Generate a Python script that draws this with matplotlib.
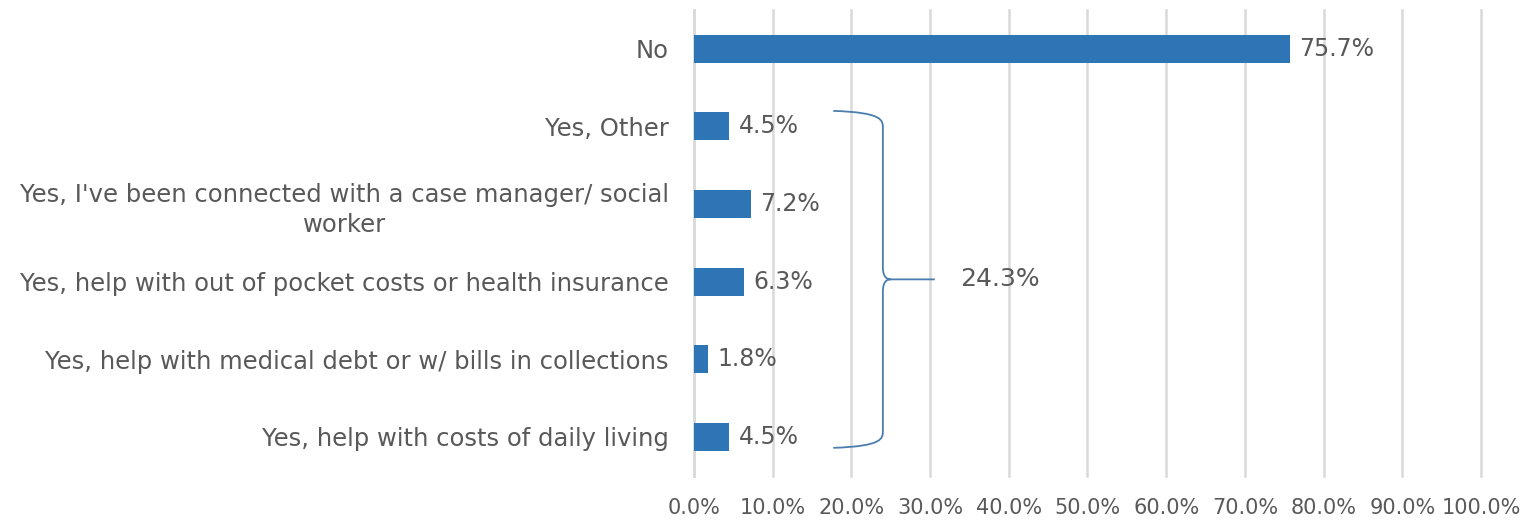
import matplotlib
matplotlib.use("Agg")
import matplotlib.pyplot as plt
from matplotlib.path import Path
from matplotlib.patches import PathPatch
from matplotlib.ticker import PercentFormatter

# ── Data ─────────────────────────────────────────────────────────────────────
categories = [
    "No",
    "Yes, Other",
    "Yes, I've been connected with a case manager/ social\nworker",
    "Yes, help with out of pocket costs or health insurance",
    "Yes, help with medical debt or w/ bills in collections",
    "Yes, help with costs of daily living",
]
values = [75.7, 4.5, 7.2, 6.3, 1.8, 4.5]
yes_total = sum(values[1:])          # 24.3

# ── Style ────────────────────────────────────────────────────────────────────
BAR_COLOR  = "#2e75b6"
TEXT_COLOR = "#595959"
GRID_COLOR = "#d9d9d9"
plt.rcParams["font.family"] = ["DejaVu Sans"]

fig = plt.figure(figsize=(15.32, 5.24), dpi=100)
ax = fig.add_axes([0.453, 0.092, 0.5137, 0.889])

ypos = list(range(len(categories)))
ax.barh(ypos, values, height=0.36, color=BAR_COLOR, zorder=3)

for y, v in zip(ypos, values):
    ax.text(v + 1.2, y, f"{v:.1f}%", va="center", ha="left",
            fontsize=17, color=TEXT_COLOR, zorder=4)

ax.set_xlim(0, 100)
ax.set_ylim(len(categories) - 0.5, -0.5)
ax.set_xticks(range(0, 101, 10))
ax.xaxis.set_major_formatter(PercentFormatter(decimals=1))
ax.set_yticks(ypos)
ax.set_yticklabels(categories, fontsize=17.5, color=TEXT_COLOR,
                   multialignment="center", linespacing=1.35)
ax.tick_params(axis="x", length=0, pad=16, labelsize=15, labelcolor=TEXT_COLOR)
ax.tick_params(axis="y", length=0, pad=18)

ax.grid(axis="x", color=GRID_COLOR, linewidth=1.8, zorder=0)
for line in ax.get_xgridlines():
    line.set_clip_on(False)      # keep the 100% line at full width
for side in ("top", "right", "bottom"):
    ax.spines[side].set_visible(False)
ax.spines["left"].set_color(GRID_COLOR)
ax.spines["left"].set_linewidth(1.8)

# ── Curly brace grouping the "Yes" answers ───────────────────────────────────
xl, xv, xc, xe = 17.7, 24.0, 25.0, 30.6
yt, yb = 0.80, 5.14
ym = (yt + yb) / 2
verts = [
    (xl, yt), (xv, yt + 0.02), (xv, yt + 0.12), (xv, yt + 0.22),
    (xv, ym - 0.16),
    (xv, ym - 0.03), (xc - 0.5, ym), (xc, ym),
    (xe, ym),
    (xc, ym),
    (xc - 0.5, ym), (xv, ym + 0.03), (xv, ym + 0.16),
    (xv, yb - 0.22),
    (xv, yb - 0.12), (xv, yb - 0.02), (xl, yb),
]
codes = [
    Path.MOVETO, Path.CURVE4, Path.CURVE4, Path.CURVE4,
    Path.LINETO,
    Path.CURVE4, Path.CURVE4, Path.CURVE4,
    Path.LINETO,
    Path.MOVETO,
    Path.CURVE4, Path.CURVE4, Path.CURVE4,
    Path.LINETO,
    Path.CURVE4, Path.CURVE4, Path.CURVE4,
]
ax.add_patch(PathPatch(Path(verts, codes), facecolor="none",
                       edgecolor="#4a7eb0", linewidth=1.3, zorder=4))
ax.text(xe + 3.2, ym, f"{yes_total:.1f}%", va="center", ha="left",
        fontsize=18, color=TEXT_COLOR, zorder=4)

plt.savefig("out.png", dpi=100)
